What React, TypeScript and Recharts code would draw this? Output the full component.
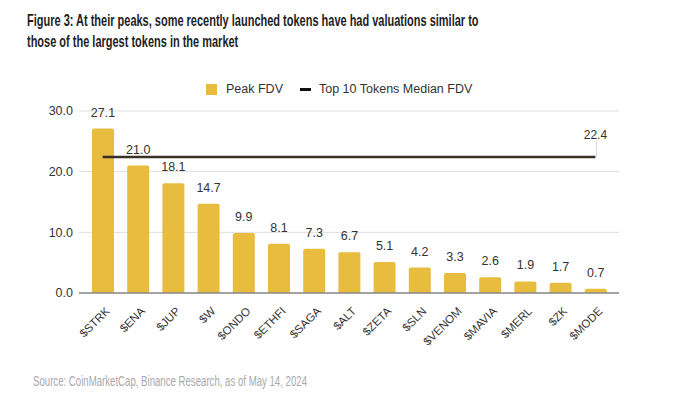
import React from 'react';
import {
  ComposedChart, Bar, Line, XAxis, YAxis, CartesianGrid, LabelList,
} from 'recharts';

const tokens = [
  '$STRK', '$ENA', '$JUP', '$W', '$ONDO', '$ETHFI', '$SAGA', '$ALT',
  '$ZETA', '$SLN', '$VENOM', '$MAVIA', '$MERL', '$ZK', '$MODE',
];
const peakFdv = [27.1, 21.0, 18.1, 14.7, 9.9, 8.1, 7.3, 6.7, 5.1, 4.2, 3.3, 2.6, 1.9, 1.7, 0.7];
const top10Median = 22.4;
const yTicks = [0, 10, 20, 30];

const data = tokens.map((name, i) => ({ name, peak: peakFdv[i], median: top10Median }));

const BAR = '#E8BC3E';
const LINE = '#3a3126';
const TEXT = '#333333';
const FONT = '"Liberation Sans", Arial, sans-serif';
const NARROW = '"Liberation Sans Narrow", "Liberation Sans", sans-serif';

const CategoryTick = (props: any) => {
  const { x, y, payload } = props;
  return (
    <g transform={`translate(${x + 5},${y + 8})`}>
      <text
        transform="rotate(-45)"
        textAnchor="end"
        dy="0.35em"
        fontSize={11.5}
        fill={TEXT}
        fontFamily={FONT}
      >
        {payload.value}
      </text>
    </g>
  );
};

const MedianLabel = (props: any) => {
  const { x, y, index, value } = props;
  if (index !== tokens.length - 1) return null;
  return (
    <g>
      <line x1={x + 1} x2={x + 1} y1={y - 17} y2={y} stroke="#d8d8d8" strokeWidth={1} />
      <text x={x} y={y - 17} dy="-0.1em" textAnchor="middle" fontSize={12} fill={TEXT} fontFamily={FONT}>
        {value.toFixed(1)}
      </text>
    </g>
  );
};

const titleLine: React.CSSProperties = {
  position: 'absolute',
  left: 27,
  fontFamily: FONT,
  fontWeight: 700,
  fontSize: 16.5,
  lineHeight: '20px',
  color: '#1e1e1e',
  whiteSpace: 'nowrap',
  transform: 'scaleX(0.666)',
  transformOrigin: 'left center',
};

const App: React.FC = () => {
  return (
    <div style={{ position: 'absolute', top: 0, left: 0, width: 680, height: 409, background: '#fff', overflow: 'hidden' }}>
      <div style={{ ...titleLine, top: 10 }}>
        Figure 3: At their peaks, some recently launched tokens have had valuations similar to
      </div>
      <div style={{ ...titleLine, top: 31 }}>
        those of the largest tokens in the market
      </div>

      <div
        style={{
          position: 'absolute', top: 82, left: 206, display: 'flex', alignItems: 'center',
          fontFamily: FONT, fontSize: 12.5, color: TEXT,
        }}
      >
        <span style={{ width: 11, height: 11, background: BAR, display: 'inline-block', marginRight: 9 }} />
        <span>Peak FDV</span>
        <span style={{ width: 11, height: 3, background: '#111', display: 'inline-block', margin: '0 8px 0 17px' }} />
        <span>Top 10 Tokens Median FDV</span>
      </div>

      <div style={{ position: 'absolute', top: 0, left: 0 }}>
        <ComposedChart
          width={680}
          height={409}
          data={data}
          margin={{ top: 111, right: 61, left: 0, bottom: 46 }}
        >
          <CartesianGrid stroke="#dedede" vertical={false} />
          <XAxis
            dataKey="name"
            interval={0}
            height={70}
            padding={{ left: 6, right: 6 }}
            tickLine={false}
            axisLine={{ stroke: '#8a8a8a', strokeWidth: 1.5 }}
            tick={<CategoryTick />}
          />
          <YAxis
            width={79}
            domain={[0, 30]}
            ticks={yTicks}
            tickFormatter={(v: number) => v.toFixed(1)}
            tickLine={false}
            axisLine={false}
            tickSize={0}
            tickMargin={6}
            tick={{ fontSize: 12.5, fill: TEXT, fontFamily: FONT }}
          />
          <Bar dataKey="peak" fill={BAR} barSize={22} radius={[2, 2, 0, 0]} isAnimationActive={false}>
            <LabelList
              dataKey="peak"
              position="top"
              offset={12}
              formatter={(v: number) => v.toFixed(1)}
              style={{ fontSize: 12.5, fill: TEXT, fontFamily: FONT }}
            />
          </Bar>
          <Line
            dataKey="median"
            stroke={LINE}
            strokeWidth={2.5}
            dot={false}
            activeDot={false}
            isAnimationActive={false}
          >
            <LabelList dataKey="median" content={<MedianLabel />} />
          </Line>
        </ComposedChart>
      </div>

      <svg width={680} height={30} style={{ position: 'absolute', top: 370, left: 0 }}>
        <text
          x={33} y={16} fontSize={14} fill="#a9a9a9" fontFamily={NARROW}
          textLength={274} lengthAdjust="spacingAndGlyphs"
        >
          Source: CoinMarketCap, Binance Research, as of May 14, 2024
        </text>
      </svg>
    </div>
  );
};

export default App;
